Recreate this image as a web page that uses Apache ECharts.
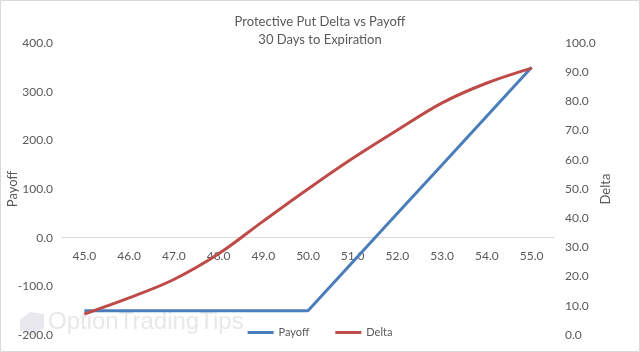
<!DOCTYPE html>
<html>
<head>
<meta charset="utf-8">
<script src="https://cdn.jsdelivr.net/npm/echarts@6/dist/echarts.min.js"></script>
<style>
  html, body { margin: 0; padding: 0; background: #fff; }
  #chart { width: 640px; height: 352px; }
</style>
</head>
<body>
<div id="chart"></div>
<script>
var chart = echarts.init(document.getElementById('chart'));

// 标的价格
var prices = ['45.0', '46.0', '47.0', '48.0', '49.0', '50.0', '51.0', '52.0', '53.0', '54.0', '55.0'];
// 收益
var payoff = [-150, -150, -150, -150, -150, -150, -50, 50, 150, 250, 350];
// Delta
var delta = [7.2, 12.7, 19.0, 27.8, 39.0, 50.0, 60.5, 70.2, 79.5, 86.3, 91.4];

var grey = '#595959';
var font = 'Lato';

// 绘图区
var gridTop = 43, gridBottom = 17, chartH = 352;
var plotH = chartH - gridTop - gridBottom;
// 横轴放在收益 0 的位置 (-200 到 400)
var zeroOffset = -plotH * (200 / 600);

function fmt(v) { return v.toFixed(1); }

var option = {
    backgroundColor: '#fff',
    textStyle: { fontFamily: font },
    title: {
        text: 'Protective Put Delta vs Payoff\n30 Days to Expiration',
        left: 'center',
        top: 8,
        textStyle: { fontSize: 13, fontWeight: 'normal', color: grey, lineHeight: 18, fontFamily: font }
    },
    legend: {
        bottom: 9,
        left: 'center',
        itemWidth: 26,
        itemHeight: 3,
        itemGap: 26,
        icon: 'rect',
        textStyle: { fontSize: 11, color: grey, fontFamily: font },
        data: ['Payoff', 'Delta']
    },
    grid: { left: 62, right: 86, top: gridTop, bottom: gridBottom, containLabel: false, outerBoundsMode: 'none' },
    xAxis: {
        type: 'category',
        data: prices,
        boundaryGap: true,
        offset: zeroOffset,
        axisLine: { onZero: false, lineStyle: { color: '#d9d9d9' } },
        axisTick: { show: false },
        axisLabel: { color: grey, fontSize: 12, margin: 12 }
    },
    yAxis: [{
        type: 'value',
        name: 'Payoff',
        nameLocation: 'middle',
        nameGap: 43,
        nameMoveOverlap: false,
        nameTextStyle: { color: grey, fontSize: 13 },
        min: -200, max: 400, interval: 100,
        axisLine: { show: false },
        axisTick: { show: false },
        splitLine: { show: false },
        axisLabel: { color: grey, fontSize: 12, formatter: fmt, margin: 9 }
    }, {
        type: 'value',
        name: 'Delta',
        nameLocation: 'middle',
        nameGap: 45,
        nameMoveOverlap: false,
        nameTextStyle: { color: grey, fontSize: 13 },
        min: 0, max: 100, interval: 10,
        axisLine: { show: false },
        axisTick: { show: false },
        splitLine: { show: false },
        axisLabel: { color: grey, fontSize: 12, formatter: fmt, margin: 11 }
    }],
    series: [{
        name: 'Payoff',
        type: 'line',
        data: payoff,
        yAxisIndex: 0,
        showSymbol: false,
        lineStyle: { width: 3, color: '#4a7ebb' },
        itemStyle: { color: '#4a7ebb' }
    }, {
        name: 'Delta',
        type: 'line',
        data: delta,
        yAxisIndex: 1,
        smooth: 0.35,
        showSymbol: false,
        lineStyle: { width: 3, color: '#be4b48' },
        itemStyle: { color: '#be4b48' }
    }],
    graphic: [{
        type: 'rect',
        shape: { x: 0.5, y: 0.5, width: 639, height: 351 },
        style: { fill: 'none', stroke: '#d9d9d9', lineWidth: 1 },
        silent: true
    }, {
        type: 'text',
        left: 48,
        top: 310,
        z: -1,
        style: { text: 'OptionTradingTips', fontSize: 24, fill: '#e8e8e8', fontFamily: 'Liberation Sans' },
        silent: true
    }, {
        type: 'polygon',
        z: -1,
        shape: { points: [[20, 320], [30, 312], [44, 314], [44, 328], [32, 336], [20, 330]] },
        style: { fill: '#e8e8ee' },
        silent: true
    }]
};

chart.setOption(option);
</script>
</body>
</html>
